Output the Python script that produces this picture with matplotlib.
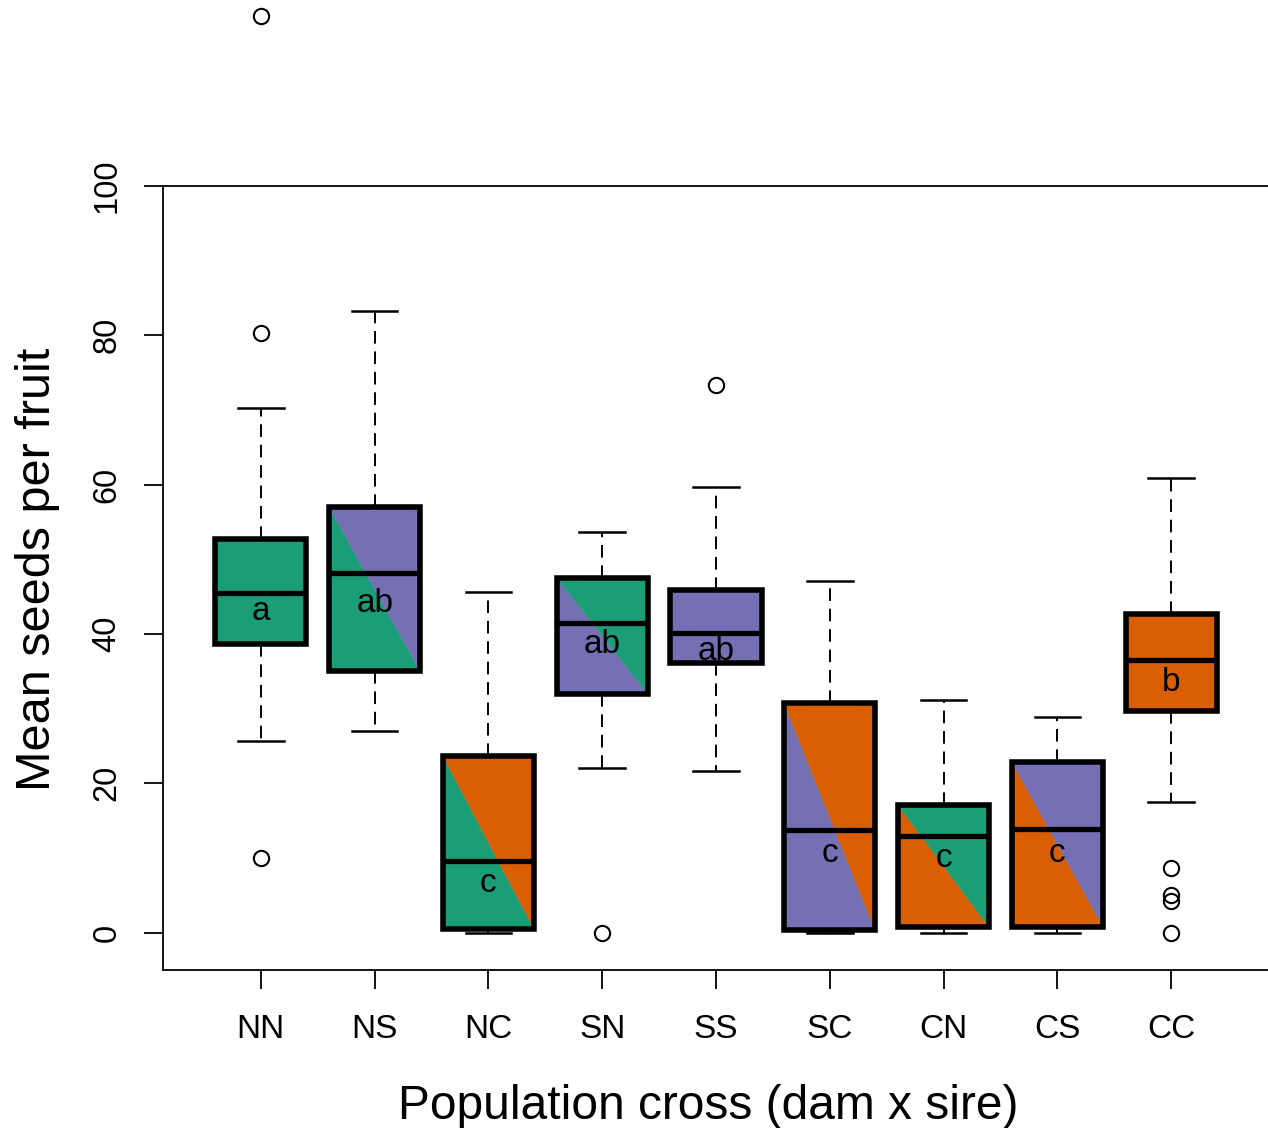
import matplotlib
matplotlib.use("Agg")
import matplotlib.pyplot as plt

plt.rcParams['font.family'] = ['Liberation Sans', 'DejaVu Sans']

# population crosses (dam x sire)
crosses = ["NN", "NS", "NC", "SN", "SS", "SC", "CN", "CS", "CC"]
whislo = [25.7, 27.0, 0.0, 22.0, 21.7, 0.0, 0.0, 0.0, 17.5]
q1 = [38.7, 35.1, 0.5, 32.0, 36.1, 0.3, 0.7, 0.7, 29.7]
med = [45.5, 48.2, 9.6, 41.5, 40.2, 13.8, 13.0, 13.9, 36.5]
q3 = [52.7, 57.0, 23.6, 47.5, 45.9, 30.8, 17.1, 22.9, 42.7]
whishi = [70.3, 83.3, 45.6, 53.7, 59.7, 47.1, 31.2, 28.9, 60.9]
outliers = [[122.8, 80.3, 10.0], [], [], [0.0], [73.4], [], [], [], [8.6, 5.0, 4.3, 0.0]]
letters = ["a", "ab", "c", "ab", "ab", "c", "c", "c", "b"]
letter_y = [41.9, 43.0, 5.4, 37.5, 36.5, 9.5, 8.8, 9.5, 32.3]

pop_col = {"N": "#1B9E77", "S": "#7570B3", "C": "#D95F02"}

fig = plt.figure(figsize=(12.68, 11.28), dpi=100)
ax = fig.add_axes([163 / 1268, 158 / 1128, 1106 / 1268, 784 / 1128])

pos = list(range(1, len(crosses) + 1))
half = 0.4

# split fills: lower-left = dam colour, upper-right = sire colour
for x, c, lo, hi in zip(pos, crosses, q1, q3):
    dam, sire = pop_col[c[0]], pop_col[c[1]]
    if dam == sire:
        ax.fill([x - half, x - half, x + half, x + half], [hi, lo, lo, hi],
                color=dam, lw=0, zorder=1)
    else:
        ax.fill([x - half, x - half, x + half], [hi, lo, lo], fc=dam, ec=dam, lw=0.3, zorder=1)
        ax.fill([x - half, x + half, x + half], [hi, hi, lo], fc=sire, ec=sire, lw=0.3, zorder=1)

stats = []
for i in range(len(crosses)):
    stats.append(dict(whislo=whislo[i], q1=q1[i], med=med[i], q3=q3[i],
                      whishi=whishi[i], fliers=outliers[i]))

ax.bxp(stats, positions=pos, widths=0.8, patch_artist=True,
       boxprops=dict(facecolor="none", edgecolor="black", linewidth=4, zorder=3),
       medianprops=dict(color="black", linewidth=3.8, zorder=3),
       whiskerprops=dict(color="black", linewidth=1.4, linestyle=(0, (6.5, 4))),
       capprops=dict(color="black", linewidth=1.8),
       capwidths=0.4,
       flierprops=dict(marker="o", markerfacecolor="none", markeredgecolor="black",
                       markersize=11, markeredgewidth=1.5, clip_on=False))

for x, t, y in zip(pos, letters, letter_y):
    ax.text(x, y, t, ha="center", va="baseline", fontsize=24, zorder=4)

ax.set_xlim(0.14, 9.86)
ax.set_ylim(-5, 100)
ax.set_xticks(pos)
ax.set_xticklabels(crosses, fontsize=24)
ax.set_yticks([0, 20, 40, 60, 80, 100])
ax.set_yticklabels(["0", "20", "40", "60", "80", "100"], rotation=90, va="center", fontsize=23.5)
ax.tick_params(axis="both", length=14, width=1.3)
ax.tick_params(axis="y", pad=15)
ax.tick_params(axis="x", pad=18)
for s in ax.spines.values():
    s.set_linewidth(1.3)

ax.set_xlabel("Population cross (dam x sire)", fontsize=34.5)
ax.set_ylabel("Mean seeds per fruit", fontsize=35)
ax.xaxis.set_label_coords(0.493, -0.145)
ax.yaxis.set_label_coords(-0.093, 0.511)

fig.savefig("out.png", dpi=100)
